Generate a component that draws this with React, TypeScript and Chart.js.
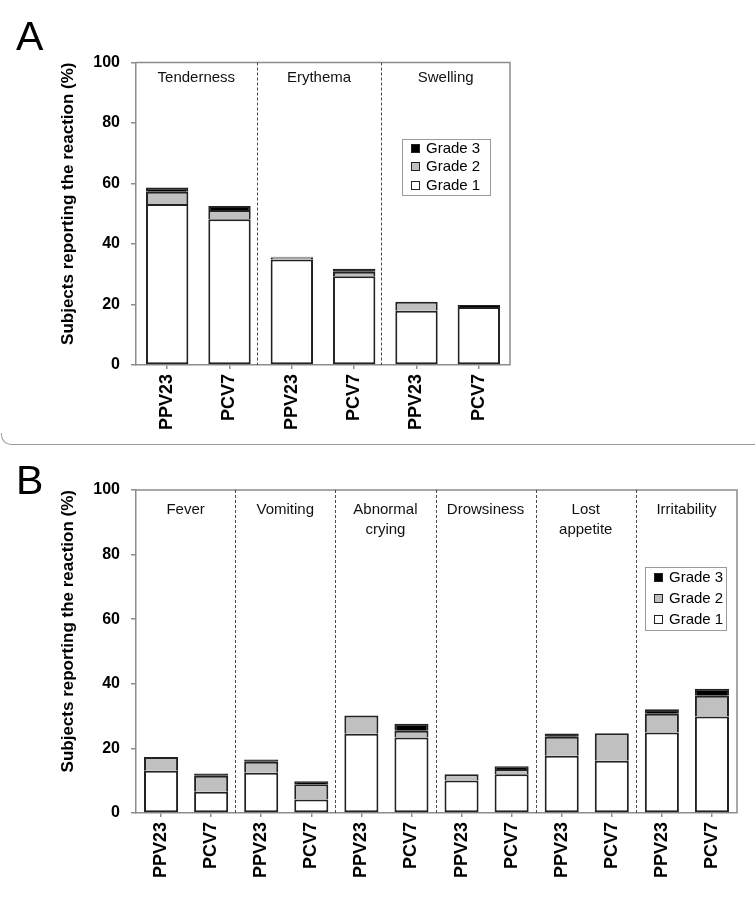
import React, { useEffect, useRef } from "react";
import { Chart, registerables } from "chart.js";

Chart.register(...registerables);

const FONT = '"Liberation Sans", Arial, Helvetica, sans-serif';

// ---------- data ----------
const gradeLabels = ["Grade 1", "Grade 2", "Grade 3"];
const gradeColors = ["#ffffff", "#c0c0c0", "#000000"];
const yTicks = [0, 20, 40, 60, 80, 100];
const yTitle = "Subjects reporting the reaction (%)";

const categoriesA = ["PPV23", "PCV7", "PPV23", "PCV7", "PPV23", "PCV7"];
const groupsA = [["Tenderness"], ["Erythema"], ["Swelling"]];
const aGrade1 = [53.2, 48.2, 34.9, 29.3, 17.9, 19.2];
const aGrade2 = [4.1, 3.0, 0.6, 1.5, 3.0, 0];
const aGrade3 = [1.4, 1.4, 0.3, 1.0, 0, 0.6];

const categoriesB = [
  "PPV23", "PCV7", "PPV23", "PCV7", "PPV23", "PCV7",
  "PPV23", "PCV7", "PPV23", "PCV7", "PPV23", "PCV7",
];
const groupsB = [
  ["Fever"], ["Vomiting"], ["Abnormal", "crying"],
  ["Drowsiness"], ["Lost", "appetite"], ["Irritability"],
];
const bGrade1 = [13.1, 6.6, 12.5, 4.2, 24.5, 23.4, 10.1, 12.0, 17.7, 16.2, 24.9, 29.9];
const bGrade2 = [4.2, 4.9, 3.4, 4.7, 5.7, 2.1, 1.9, 1.6, 5.9, 8.5, 5.8, 6.4];
const bGrade3 = [0, 0.7, 0.7, 0.9, 0, 2.1, 0, 0.9, 1.0, 0, 1.4, 2.2];

// ---------- decoration plugin ----------
const decorPlugin = {
  id: "panelDecor",
  afterDraw(chart: any, _args: any, opts: any) {
    const { ctx, chartArea: ca, scales } = chart;
    const xs = scales.x;
    ctx.save();
    // frame top & right
    ctx.strokeStyle = "#8c8c8c";
    ctx.lineWidth = 1.5;
    ctx.beginPath();
    ctx.moveTo(ca.left, ca.top);
    ctx.lineTo(ca.right, ca.top);
    ctx.lineTo(ca.right, ca.bottom);
    ctx.stroke();

    // dashed separators between groups
    const groups: string[][] = opts.groups;
    const edges: number[] = [ca.left];
    for (let g = 0; g < groups.length - 1; g++) {
      const px =
        (xs.getPixelForValue(2 * g + 1) + xs.getPixelForValue(2 * g + 2)) / 2 +
        opts.sepShift;
      edges.push(px);
    }
    edges.push(ca.right);
    ctx.strokeStyle = "#4a4a4a";
    ctx.lineWidth = 1;
    ctx.setLineDash([3, 2]);
    for (let i = 1; i < edges.length - 1; i++) {
      const px = Math.round(edges[i]) + 0.5;
      ctx.beginPath();
      ctx.moveTo(px, ca.top);
      ctx.lineTo(px, ca.bottom);
      ctx.stroke();
    }
    ctx.setLineDash([]);

    // group titles
    ctx.font = `15px ${FONT}`;
    ctx.fillStyle = "#111";
    ctx.textAlign = "center";
    ctx.textBaseline = "middle";
    groups.forEach((lines, g) => {
      const cx = (edges[g] + edges[g + 1]) / 2;
      lines.forEach((t, li) => {
        ctx.fillText(t, cx, ca.top + opts.titleDy + li * opts.titleLine);
      });
    });

    // legend
    const L = opts.legend;
    const lx = ca.left + L.x;
    const ly = ca.top + L.y;
    ctx.fillStyle = "#fff";
    ctx.fillRect(lx, ly, L.w, L.h);
    ctx.strokeStyle = "#9a9a9a";
    ctx.lineWidth = 1;
    ctx.strokeRect(Math.round(lx) + 0.5, Math.round(ly) + 0.5, L.w, L.h);
    const ds = [...chart.data.datasets].reverse();
    ctx.font = `15px ${FONT}`;
    ctx.textAlign = "left";
    ds.forEach((d: any, i: number) => {
      const cy = ly + L.first + i * L.row;
      ctx.fillStyle = d.backgroundColor;
      ctx.fillRect(lx + 9, cy - 4, 8, 8);
      ctx.strokeStyle = "#222";
      ctx.lineWidth = 1;
      ctx.strokeRect(Math.round(lx + 9) + 0.5, Math.round(cy - 4) + 0.5, 8, 8);
      ctx.fillStyle = "#000";
      ctx.fillText(d.label, lx + 24, cy + 1);
    });

    // panel letter
    ctx.font = `41px ${FONT}`;
    ctx.fillStyle = "#000";
    ctx.textAlign = "left";
    ctx.textBaseline = "alphabetic";
    ctx.fillText(opts.letter, 16, opts.letterY);
    ctx.restore();
  },
};

function makeConfig(
  labels: string[],
  g1: number[],
  g2: number[],
  g3: number[],
  layout: any,
  decor: any
) {
  const series = [g1, g2, g3];
  return {
    type: "bar" as const,
    data: {
      labels,
      datasets: series.map((d, i) => ({
        label: gradeLabels[i],
        data: d,
        backgroundColor: gradeColors[i],
        borderColor: "#222222",
        borderWidth: 2,
        borderSkipped: i === 0 ? false : "start",
        barPercentage: 0.68,
        categoryPercentage: 1,
      })),
    },
    options: {
      responsive: false,
      animation: false,
      events: [],
      layout: { padding: layout.padding },
      plugins: {
        legend: { display: false },
        tooltip: { enabled: false },
        panelDecor: decor,
      },
      scales: {
        x: {
          stacked: true,
          grid: {
            display: true,
            drawOnChartArea: false,
            drawTicks: true,
            tickLength: 4,
            color: "#8c8c8c",
            lineWidth: 1.5,
            offset: false,
          },
          border: { display: true, color: "#8c8c8c", width: 1.5 },
          ticks: {
            autoSkip: false,
            minRotation: 90,
            maxRotation: 90,
            padding: 5,
            color: "#000",
            font: { family: FONT, size: 18, weight: "bold" },
          },
          afterFit: (s: any) => {
            s.height = layout.xHeight;
          },
        },
        y: {
          stacked: true,
          min: 0,
          max: 100,
          afterBuildTicks: (s: any) => {
            s.ticks = yTicks.map((v) => ({ value: v }));
          },
          grid: {
            display: true,
            drawOnChartArea: false,
            drawTicks: true,
            tickLength: 5,
            color: "#8c8c8c",
            lineWidth: 1.5,
          },
          border: { display: true, color: "#8c8c8c", width: 1.5 },
          ticks: {
            padding: 11,
            color: "#000",
            font: { family: FONT, size: 16, weight: "bold" },
          },
          title: {
            display: true,
            text: yTitle,
            align: "end",
            color: "#000",
            font: { family: FONT, size: 17, weight: "bold" },
            padding: { top: 58, bottom: 0 },
          },
          afterFit: (s: any) => {
            s.width = 136;
          },
        },
      },
    },
    plugins: [decorPlugin],
  };
}

function ChartCanvas({ config, width, height, top }: any) {
  const ref = useRef<HTMLCanvasElement>(null);
  useEffect(() => {
    if (!ref.current) return;
    const chart = new Chart(ref.current, config as any);
    return () => chart.destroy();
  }, []);
  return (
    <canvas
      ref={ref}
      width={width}
      height={height}
      style={{ position: "absolute", left: 0, top, width, height, display: "block" }}
    />
  );
}

export default function App() {
  const configA = makeConfig(
    categoriesA,
    aGrade1,
    aGrade2,
    aGrade3,
    { padding: { left: 0, top: 62.5, right: 245, bottom: 0 }, xHeight: 75 },
    {
      groups: groupsA,
      sepShift: -4,
      titleDy: 15.5,
      titleLine: 20,
      legend: { x: 266, y: 76, w: 88, h: 56, first: 9.5, row: 18.3 },
      letter: "A",
      letterY: 50,
    }
  );
  const configB = makeConfig(
    categoriesB,
    bGrade1,
    bGrade2,
    bGrade3,
    { padding: { left: 0, top: 45, right: 18, bottom: 0 }, xHeight: 86 },
    {
      groups: groupsB,
      sepShift: -1,
      titleDy: 20,
      titleLine: 20,
      legend: { x: 509, y: 77, w: 81, h: 63, first: 10.2, row: 21 },
      letter: "B",
      letterY: 49,
    }
  );
  return (
    <div
      style={{
        position: "absolute",
        left: 0,
        top: 0,
        width: 755,
        height: 899,
        background: "#fff",
        overflow: "hidden",
      }}
    >
      <ChartCanvas config={configA} width={755} height={440} top={0} />
      <ChartCanvas config={configB} width={755} height={454} top={445} />
      <div
        style={{
          position: "absolute",
          left: 1,
          top: 433,
          width: 754,
          height: 12,
          borderLeft: "1.5px solid #9a9a9a",
          borderBottom: "1.5px solid #9a9a9a",
          borderBottomLeftRadius: 10,
          boxSizing: "border-box",
        }}
      />
    </div>
  );
}
